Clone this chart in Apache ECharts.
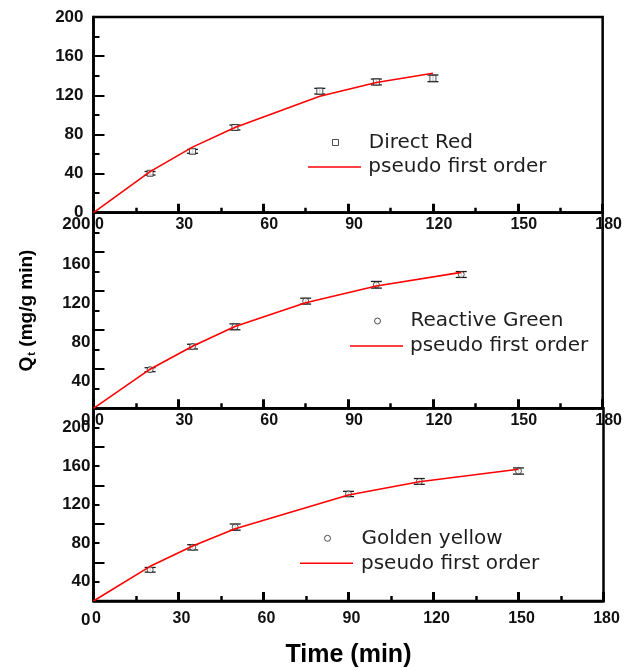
<!DOCTYPE html>
<html>
<head>
<meta charset="utf-8">
<title>Adsorption kinetics</title>
<script src="https://cdn.jsdelivr.net/npm/echarts@6/dist/echarts.min.js"></script>
<style>
  html, body { margin: 0; padding: 0; background: #fff; }
  #chart { width: 625px; height: 669px; }
</style>
</head>
<body>
<div id="chart"></div>
<script>
// Axis ticks (shared by the three stacked panels)
const timeTicks = [0, 30, 60, 90, 120, 150, 180];
const qTicks = [0, 40, 80, 120, 160, 200];

// Direct Red: measured uptake with error, and pseudo-first-order fit
const timeDR = [20, 35, 50, 80, 100, 120];
const qDR = [40.3, 62.7, 87.1, 124.2, 133.6, 137.3];
const errDR = [1.8, 2.0, 2.5, 2.9, 3.0, 3.4];
const fitTimeDR = [0, 20, 35, 50, 80, 100, 120];
const fitDR = [0, 42, 67, 87, 119, 133, 142.5];

// Reactive Green
const timeRG = [20, 35, 50, 75, 100, 130];
const qRG = [39.5, 63.1, 83.3, 109.6, 126.3, 136.8];
const errRG = [2.0, 2.4, 3.0, 3.0, 3.4, 3.0];
const fitTimeRG = [0, 20, 35, 50, 75, 100, 130];
const fitRG = [0, 40, 63.5, 83.6, 108, 125, 139];

// Golden yellow
const timeGY = [20, 35, 50, 90, 115, 150];
const qGY = [32.4, 55.7, 76.7, 111.1, 124.1, 134.9];
const errGY = [2.4, 2.7, 3.2, 2.7, 3.0, 3.2];
const fitTimeGY = [0, 20, 35, 50, 90, 115, 150];
const fitGY = [0, 36, 57, 75, 110, 123.7, 136.7];

const dyeNames = ['Direct Red', 'Reactive Green', 'Golden yellow'];
const fitName = 'pseudo first order';

const zip = (a, b) => a.map((v, i) => [v, b[i]]);
const zip3 = (a, b, c) => a.map((v, i) => [v, b[i], c[i]]);

const panels = [
  { t: timeDR, q: qDR, e: errDR, ft: fitTimeDR, f: fitDR, symbol: 'rect' },
  { t: timeRG, q: qRG, e: errRG, ft: fitTimeRG, f: fitRG, symbol: 'circle' },
  { t: timeGY, q: qGY, e: errGY, ft: fitTimeGY, f: fitGY, symbol: 'circle' }
];

const AX_FONT = '"Liberation Sans", Arial, sans-serif';
const LEG_FONT = '"DejaVu Sans", sans-serif';
const RED = '#ff0000';

// panel frames in pixels
const frames = [
  { top: 17, height: 195.7 },
  { top: 212.7, height: 195.6 },
  { top: 408.3, height: 195 }
];
// per-panel tick label placement
const yLabelDrop = [0, 24, 38];    // line height used to push labels below their ticks
const yLabelMargin = [10, 3, 3];
const xLabelShift = [12, 12, 6];
const xLabelMargin = [4, 4, 10];

const grids = frames.map(f => ({
  left: 93.5, width: 510, top: f.top, height: f.height,
  show: true, borderColor: '#000', borderWidth: 2.5, backgroundColor: 'transparent'
}));

const xAxes = frames.map((f, i) => ({
  type: 'value', gridIndex: i, min: timeTicks[0], max: timeTicks[timeTicks.length - 1],
  interval: timeTicks[1] - timeTicks[0],
  axisLine: { show: true, onZero: false, lineStyle: { color: '#000', width: 2.5 } },
  axisTick: { show: true, inside: true, length: 9, lineStyle: { color: '#000', width: 3 } },
  minorTick: { show: true, splitNumber: 2, length: 5, lineStyle: { color: '#000', width: 2.5 } },
  splitLine: { show: false },
  axisLabel: {
    show: true, margin: xLabelMargin[i], color: '#111', fontFamily: AX_FONT,
    fontWeight: 'bold', fontSize: 16, padding: [0, 0, 0, xLabelShift[i]]
  },
  name: i === 2 ? 'Time (min)' : '',
  nameLocation: 'middle', nameGap: 42,
  nameTextStyle: { fontFamily: AX_FONT, fontWeight: 'bold', fontSize: 25, color: '#000' }
}));

const yAxes = frames.map((f, i) => {
  const label = {
    show: true, margin: yLabelMargin[i], color: '#111', fontFamily: AX_FONT,
    fontWeight: 'bold', fontSize: 17
  };
  if (yLabelDrop[i] > 0) {
    label.verticalAlign = 'top';
    label.lineHeight = yLabelDrop[i];
  }
  return {
    type: 'value', gridIndex: i, min: qTicks[0], max: qTicks[qTicks.length - 1],
    interval: qTicks[1] - qTicks[0],
    axisLine: { show: true, onZero: false, lineStyle: { color: '#000', width: 2.5 } },
    axisTick: { show: true, inside: true, length: 11, lineStyle: { color: '#000', width: 2 } },
    minorTick: { show: true, splitNumber: 2, length: 6, lineStyle: { color: '#000', width: 2 } },
    splitLine: { show: false },
    axisLabel: label,
    name: i === 1 ? '{q|Q}{s|t}{q| (mg/g min)}' : '',
    nameLocation: 'middle', nameRotate: 90, nameGap: 56,
    nameTextStyle: {
      rich: {
        q: { fontFamily: AX_FONT, fontWeight: 'bold', fontSize: 19, color: '#000' },
        s: { fontFamily: AX_FONT, fontWeight: 'bold', fontSize: 11, color: '#000',
             verticalAlign: 'bottom', padding: [10, 0, 0, 1] }
      }
    }
  };
});

// vertical error bars with short caps
function renderErrorBar(params, api) {
  const t = api.value(0), v = api.value(1), e = api.value(2);
  const hi = api.coord([t, v + e]);
  const lo = api.coord([t, v - e]);
  const hw = 5.5;
  const st = { stroke: '#1a1a1a', lineWidth: 1.3 };
  return {
    type: 'group',
    children: [
      { type: 'line', shape: { x1: hi[0], y1: hi[1], x2: lo[0], y2: lo[1] }, style: st },
      { type: 'line', shape: { x1: hi[0] - hw, y1: hi[1], x2: hi[0] + hw, y2: hi[1] }, style: st },
      { type: 'line', shape: { x1: lo[0] - hw, y1: lo[1], x2: lo[0] + hw, y2: lo[1] }, style: st }
    ]
  };
}

const series = [];
panels.forEach((p, i) => {
  series.push({
    type: 'custom', xAxisIndex: i, yAxisIndex: i, name: dyeNames[i] + ' error',
    renderItem: renderErrorBar, data: zip3(p.t, p.q, p.e),
    encode: { x: 0, y: 1 }, z: 2, silent: true
  });
  series.push({
    type: 'scatter', xAxisIndex: i, yAxisIndex: i, name: dyeNames[i],
    data: zip(p.t, p.q), symbol: p.symbol, symbolSize: 6,
    itemStyle: { color: '#fff', borderColor: '#222', borderWidth: 1 }, z: 3
  });
  series.push({
    type: 'line', xAxisIndex: i, yAxisIndex: i, name: fitName,
    data: zip(p.ft, p.f), showSymbol: false, symbol: 'none',
    lineStyle: { color: RED, width: 1.6 }, itemStyle: { color: RED }, z: 4
  });
});

// legend: marker row (small symbol centred over the line sample) and fit-line row
const legendRows = [
  { lineLeft: 308, markY: 142.5, lineY: 167, textX: 368.3 },
  { lineLeft: 350, markY: 321, lineY: 346, textX: 410 },
  { lineLeft: 300, markY: 538.3, lineY: 563.3, textX: 361 }
];
const LEG_TEXT = { fontFamily: LEG_FONT, fontSize: 20, lineHeight: 20, color: '#1e1e1e' };
const legends = [];
legendRows.forEach((r, i) => {
  const cx = r.lineLeft + 27;
  legends.push({
    left: cx - 3, top: r.markY - 10, padding: 0, selectedMode: false,
    itemWidth: 6, itemHeight: 6,
    data: [{ name: dyeNames[i], icon: panels[i].symbol }],
    itemStyle: { color: '#fff', borderColor: '#222', borderWidth: 1 },
    textStyle: Object.assign({}, LEG_TEXT, { padding: [0, 0, 0, r.textX - (cx + 3) - 5] })
  });
  legends.push({
    left: r.lineLeft, top: r.lineY - 10, padding: 0, selectedMode: false,
    itemWidth: 53, itemHeight: 1.4,
    data: [{ name: fitName, icon: 'rect' }],
    itemStyle: { color: RED, borderWidth: 0 },
    textStyle: Object.assign({}, LEG_TEXT, { padding: [0, 0, 0, r.textX - (r.lineLeft + 53) - 5] })
  });
});

const chart = echarts.init(document.getElementById('chart'), null, { renderer: 'canvas' });
chart.setOption({
  animation: false,
  backgroundColor: '#fff',
  grid: grids,
  xAxis: xAxes,
  yAxis: yAxes,
  legend: legends,
  series: series
});
</script>
</body>
</html>
